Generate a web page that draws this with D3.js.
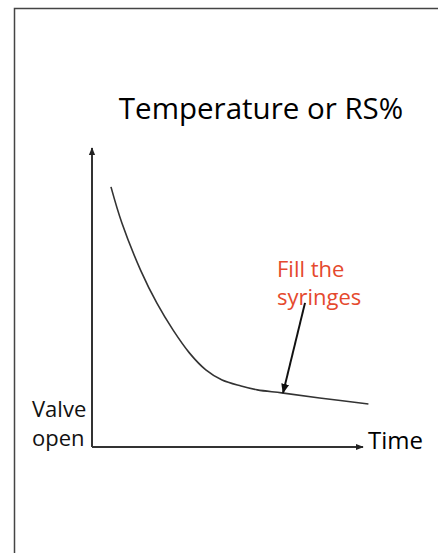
<!DOCTYPE html>
<html>
<head>
<meta charset="utf-8">
<script src="https://cdn.jsdelivr.net/npm/d3@7"></script>
<style>
  html, body { margin: 0; padding: 0; background: #fff; }
  svg text { font-family: "Open Sans", sans-serif; }
</style>
</head>
<body>
<svg id="chart" width="438" height="553"></svg>
<script>
// curve (time in arbitrary units, value in %)
const times  = [0.7, 1.1, 1.8, 2.4, 3.0, 3.6, 4.2, 4.8, 5.5, 6.1, 7.0, 8.4, 10.2];
const values = [87, 75, 59, 48, 39, 31.4, 25.8, 22.4, 20.4, 19.1, 18.1, 16.4, 14.4];

// annotation arrow, from label down to the curve
const noteFrom = [7.86, 48.2];
const noteTo   = [7.05, 18.1];

const titleText = "Temperature or RS%";
const xLabel = "Time";
const yLabel = ["Valve", "open"];
const noteLines = ["Fill the", "syringes"];

const svg = d3.select('#chart');

// frame (left + top edges only)
svg.append('path')
  .attr('d', 'M14.5,553V8.5H438')
  .attr('fill', 'none')
  .attr('stroke', '#444')
  .attr('stroke-width', 1.5);

const x = d3.scaleLinear().domain([0, 10]).range([92, 363]);
const y = d3.scaleLinear().domain([0, 100]).range([447, 148]);

const defs = svg.append('defs');
defs.append('marker')
  .attr('id', 'axisHead')
  .attr('viewBox', '0 0 10 10')
  .attr('refX', 9).attr('refY', 5)
  .attr('markerWidth', 4).attr('markerHeight', 4)
  .attr('orient', 'auto')
  .append('path').attr('d', 'M0,1L10,5L0,9Z').attr('fill', '#222');
defs.append('marker')
  .attr('id', 'noteHead')
  .attr('viewBox', '0 0 10 10')
  .attr('refX', 9).attr('refY', 5)
  .attr('markerWidth', 5).attr('markerHeight', 5)
  .attr('orient', 'auto')
  .append('path').attr('d', 'M0,1L10,5L0,9Z').attr('fill', '#111');

// axes
svg.append('line')
  .attr('x1', x(0)).attr('y1', y(0))
  .attr('x2', x(0)).attr('y2', y(100))
  .attr('stroke', '#333').attr('stroke-width', 2)
  .attr('marker-end', 'url(#axisHead)');
svg.append('line')
  .attr('x1', x(0)).attr('y1', y(0))
  .attr('x2', x(10)).attr('y2', y(0))
  .attr('stroke', '#333').attr('stroke-width', 2)
  .attr('marker-end', 'url(#axisHead)');

// the decay curve
const pts = times.map((t, i) => [t, values[i]]);
const line = d3.line()
  .x(d => x(d[0]))
  .y(d => y(d[1]))
  .curve(d3.curveCatmullRom.alpha(0.5));
svg.append('path')
  .datum(pts)
  .attr('d', line)
  .attr('fill', 'none')
  .attr('stroke', '#333')
  .attr('stroke-width', 1.6);

// annotation arrow
svg.append('line')
  .attr('x1', x(noteFrom[0])).attr('y1', y(noteFrom[1]))
  .attr('x2', x(noteTo[0])).attr('y2', y(noteTo[1]))
  .attr('stroke', '#111').attr('stroke-width', 2)
  .attr('marker-end', 'url(#noteHead)');

// title
svg.append('text')
  .attr('x', 261).attr('y', 119)
  .attr('text-anchor', 'middle')
  .attr('font-size', 29.5)
  .attr('fill', '#000')
  .text(titleText);

// axis labels
svg.append('text')
  .attr('x', 368).attr('y', 449)
  .attr('font-size', 24)
  .attr('fill', '#000')
  .text(xLabel);

svg.selectAll('.ylab')
  .data(yLabel)
  .join('text')
  .attr('class', 'ylab')
  .attr('x', 32)
  .attr('y', (d, i) => 417 + i * 29)
  .attr('font-size', 22)
  .attr('fill', '#111')
  .text(d => d);

// annotation label
svg.selectAll('.note')
  .data(noteLines)
  .join('text')
  .attr('class', 'note')
  .attr('x', 277)
  .attr('y', (d, i) => 277 + i * 28)
  .attr('font-size', 22)
  .attr('fill', '#e5492d')
  .text(d => d);
</script>
</body>
</html>
